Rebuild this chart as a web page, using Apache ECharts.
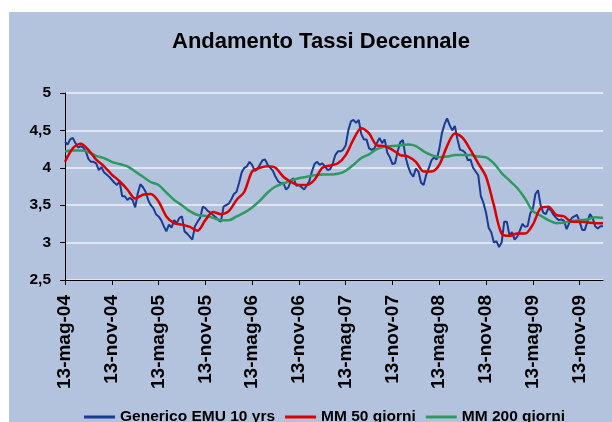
<!DOCTYPE html>
<html>
<head>
<meta charset="utf-8">
<script src="https://cdn.jsdelivr.net/npm/echarts@6/dist/echarts.min.js"></script>
<style>
  html, body { margin: 0; padding: 0; background: #ffffff; }
  #chart { position: absolute; left: 9px; top: 12px; width: 603px; height: 410px; }
</style>
</head>
<body>
<div id="chart"></div>
<script>
// tick labels on the x axis (every 6 months)
const tickLabels = ['13-mag-04', '13-nov-04', '13-mag-05', '13-nov-05', '13-mag-06', '13-nov-06',
    '13-mag-07', '13-nov-07', '13-mag-08', '13-nov-08', '13-mag-09', '13-nov-09'];

// Generico EMU 10 yrs, one value every ~10 days (13, 23, 3 of each month) from 13-mag-04
const generico = [
    4.35, 4.31, 4.38, 4.40, 4.33, 4.27, 4.29, 4.27, 4.22, 4.12, 4.08, 4.08, 4.06, 3.97, 4.01, 3.94,
    3.91, 3.88, 3.84, 3.80, 3.77, 3.82, 3.62, 3.62, 3.57, 3.60, 3.57, 3.47, 3.66, 3.78, 3.74, 3.68,
    3.57, 3.50, 3.46, 3.38, 3.35, 3.30, 3.22, 3.15, 3.24, 3.20, 3.30, 3.26, 3.33, 3.35, 3.15, 3.12,
    3.08, 3.04, 3.22, 3.28, 3.33, 3.48, 3.46, 3.42, 3.40, 3.37, 3.34, 3.30, 3.28, 3.48, 3.50, 3.52,
    3.58, 3.65, 3.68, 3.80, 3.94, 4.00, 4.02, 4.08, 4.04, 3.96, 3.98, 4.04, 4.10, 4.11, 4.04, 4.00,
    3.96, 3.88, 3.82, 3.79, 3.80, 3.71, 3.74, 3.84, 3.86, 3.76, 3.77, 3.74, 3.71, 3.76, 3.82, 3.95,
    4.05, 4.08, 4.04, 4.06, 4.02, 3.97, 3.98, 4.05, 4.17, 4.22, 4.22, 4.24, 4.30, 4.50, 4.62, 4.64,
    4.60, 4.64, 4.45, 4.38, 4.38, 4.26, 4.24, 4.26, 4.33, 4.40, 4.33, 4.38, 4.20, 4.14, 4.05, 4.06,
    4.22, 4.34, 4.37, 4.15, 4.02, 3.93, 3.88, 3.99, 3.95, 3.80, 3.77, 3.91, 4.00, 4.10, 4.14, 4.11,
    4.25, 4.46, 4.58, 4.66, 4.57, 4.50, 4.56, 4.38, 4.24, 4.23, 4.20, 4.10, 4.11, 4.00, 3.95, 3.90,
    3.62, 3.53, 3.40, 3.20, 3.14, 3.00, 3.02, 2.94, 3.00, 3.28, 3.28, 3.10, 3.14, 3.04, 3.08, 3.16,
    3.25, 3.21, 3.22, 3.39, 3.45, 3.65, 3.70, 3.50, 3.40, 3.38, 3.46, 3.43, 3.37, 3.33, 3.30, 3.31,
    3.29, 3.18, 3.26, 3.33, 3.35, 3.37, 3.28, 3.17, 3.17, 3.28, 3.38, 3.33, 3.22, 3.19, 3.22, 3.22
];

// moving averages, one value per month (on the 13th) from 13-mag-04
const mm50 = [
    4.08, 4.26, 4.32, 4.24, 4.11, 4.02, 3.91, 3.82, 3.71, 3.59, 3.64, 3.65,
    3.55, 3.35, 3.26, 3.24, 3.21, 3.16, 3.30, 3.41, 3.38, 3.42, 3.57, 3.68,
    3.95, 4.00, 4.02, 4.00, 3.88, 3.81, 3.77, 3.77, 3.84, 4.00, 4.03, 4.06,
    4.17, 4.38, 4.53, 4.46, 4.30, 4.29, 4.24, 4.17, 4.15, 4.08, 3.95, 3.95,
    4.04, 4.29, 4.46, 4.40, 4.24, 4.06, 3.88, 3.50, 3.12, 3.09, 3.12, 3.12,
    3.24, 3.46, 3.48, 3.37, 3.35, 3.28, 3.28, 3.27, 3.26, 3.26
];
const mm200 = [
    4.22, 4.23, 4.23, 4.21, 4.16, 4.13, 4.08, 4.05, 4.02, 3.95, 3.88, 3.81,
    3.77, 3.67, 3.57, 3.50, 3.42, 3.37, 3.36, 3.33, 3.30, 3.30, 3.35, 3.40,
    3.47, 3.56, 3.67, 3.75, 3.79, 3.83, 3.86, 3.88, 3.90, 3.91, 3.91, 3.92,
    3.96, 4.04, 4.13, 4.18, 4.25, 4.28, 4.29, 4.30, 4.31, 4.29, 4.22, 4.17,
    4.14, 4.15, 4.17, 4.17, 4.17, 4.15, 4.14, 4.06, 3.93, 3.83, 3.73, 3.59,
    3.42, 3.36, 3.30, 3.26, 3.27, 3.29, 3.30, 3.31, 3.34, 3.33
];

// build the category dates: 13, 23 and 3 (next month) of each month
const mesi = ['gen', 'feb', 'mar', 'apr', 'mag', 'giu', 'lug', 'ago', 'set', 'ott', 'nov', 'dic'];
const categories = [];
for (let m = 0; m < mm50.length; m++) {
    const mo = (4 + m) % 12;
    const yy = String((2004 + Math.floor((4 + m) / 12)) % 100).padStart(2, '0');
    categories.push('13-' + mesi[mo] + '-' + yy);
    if (categories.length >= generico.length) break;
    categories.push('23-' + mesi[mo] + '-' + yy);
    const mo2 = (5 + m) % 12;
    const yy2 = String((2004 + Math.floor((5 + m) / 12)) % 100).padStart(2, '0');
    categories.push('3-' + mesi[mo2] + '-' + yy2);
}

const monthly = (arr) => arr.map((v, m) => [categories[m * 3], v]);
const isTick = (idx, value) => tickLabels.indexOf(value) >= 0;

const chart = echarts.init(document.getElementById('chart'));
const font = 'Liberation Sans, Arial, sans-serif';

const option = {
    backgroundColor: '#b3c3dd',
    animation: false,
    title: {
        text: 'Andamento Tassi Decennale',
        left: 158,
        top: 14,
        textStyle: { fontFamily: font, fontSize: 22, fontWeight: 'bold', color: '#000' },
    },
    legend: {
        data: ['Generico EMU 10 yrs', 'MM 50 giorni', 'MM 200 giorni'],
        left: 70,
        top: 392,
        icon: 'rect',
        itemWidth: 31,
        itemHeight: 3,
        itemGap: 10,
        textStyle: { fontFamily: font, fontSize: 15.5, fontWeight: 'bold', color: '#000' },
    },
    grid: {
        left: 56,
        right: 9,
        top: 81,
        bottom: 142,
        outerBoundsMode: 'none',
    },
    xAxis: {
        type: 'category',
        data: categories,
        boundaryGap: false,
        axisLine: { lineStyle: { color: '#000', width: 1 } },
        axisTick: { interval: isTick, length: 5, lineStyle: { color: '#000' } },
        axisLabel: {
            interval: isTick,
            rotate: 90,
            margin: 15,
            fontFamily: font,
            fontSize: 19,
            fontWeight: 'bold',
            color: '#000',
        },
        splitLine: { show: false },
    },
    yAxis: {
        type: 'value',
        min: 2.5,
        max: 5,
        interval: 0.5,
        axisLine: { show: true, lineStyle: { color: '#000', width: 1 } },
        axisTick: { show: true, length: 5, lineStyle: { color: '#000' } },
        axisLabel: {
            margin: 14,
            fontFamily: font,
            fontSize: 15.5,
            fontWeight: 'bold',
            color: '#000',
            formatter: (v) => String(v).replace('.', ','),
        },
        splitLine: { lineStyle: { color: '#eef1f8', width: 1.5 } },
    },
    series: [
        {
            name: 'Generico EMU 10 yrs',
            type: 'line',
            data: generico,
            showSymbol: false,
            lineStyle: { color: '#1a3a94', width: 2 },
            itemStyle: { color: '#1a3a94' },
            z: 2,
        },
        {
            name: 'MM 50 giorni',
            type: 'line',
            data: monthly(mm50),
            showSymbol: false,
            smooth: 0.3,
            lineStyle: { color: '#dd0000', width: 2.5 },
            itemStyle: { color: '#dd0000' },
            z: 4,
        },
        {
            name: 'MM 200 giorni',
            type: 'line',
            data: monthly(mm200),
            showSymbol: false,
            smooth: 0.3,
            lineStyle: { color: '#2e9a62', width: 2.5 },
            itemStyle: { color: '#2e9a62' },
            z: 3,
        },
    ],
};

chart.setOption(option);
</script>
</body>
</html>
